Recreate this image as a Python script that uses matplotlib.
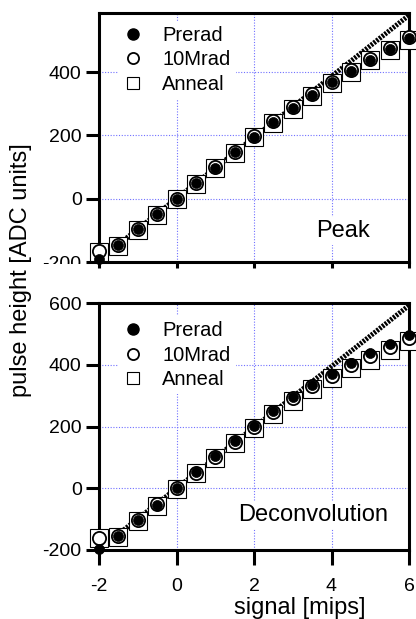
import matplotlib
matplotlib.use("Agg")
import matplotlib.pyplot as plt
from matplotlib.lines import Line2D
from matplotlib.transforms import Bbox, TransformedBbox

plt.rcParams["font.family"] = ["Liberation Sans", "DejaVu Sans"]

signal = [-2, -1.5, -1, -0.5, 0, 0.5, 1, 1.5, 2, 2.5, 3, 3.5, 4, 4.5, 5, 5.5, 6]

# Peak mode
peak_prerad = [-192, -145, -97, -49, 0, 49, 98, 148, 196, 242, 286, 328, 369, 405, 440, 473, 507]
peak_10mrad = [-166, -146, -97, -49, 0, 50, 99, 149, 198, 245, 290, 330, 370, 406, 441, 475, 511]
peak_anneal = [-169, -148, -99, -51, -2, 47, 96, 146, 194, 240, 284, 325, 365, 401, 437, 470, 503]

# Deconvolution mode
deco_prerad = [-196, -156, -103, -54, 0, 52, 103, 153, 202, 249, 294, 334, 370, 407, 437, 466, 496]
deco_10mrad = [-160, -155, -102, -52, 0, 51, 101, 151, 199, 246, 291, 330, 365, 399, 428, 458, 488]
deco_anneal = [-161, -158, -105, -56, -3, 48, 98, 147, 195, 240, 284, 322, 356, 388, 417, 447, 477]

# linear fits
fit_x = [-2, 6]
peak_fit = [-193, 580]
deco_fit = [-198, 592]

GRID_COLOR = "#7070ff"
TICK_SIZE = 14


def draw_panel(ax, prerad, mrad10, anneal, fit, ylim, yticks, label, label_pos, leg_y):
    ax.plot(fit_x, fit, color="black", lw=3.6, linestyle=(0, (0.45, 0.25)),
            solid_capstyle="butt", dash_capstyle="butt", zorder=2)
    ax.plot(signal, anneal, linestyle="none", marker="s", ms=12.5, mfc="white",
            mec="black", mew=0.8, zorder=3, clip_on=False)
    ax.plot(signal, mrad10, linestyle="none", marker="o", ms=9.5, mfc="white",
            mec="black", mew=1.3, zorder=4, clip_on=False)
    ax.plot(signal, prerad, linestyle="none", marker="o", ms=7.2, mfc="black",
            mec="black", mew=0.5, zorder=5, clip_on=False)

    ax.set_xlim(-2, 6)
    ax.set_ylim(*ylim)
    ax.set_xticks([-2, 0, 2, 4, 6])
    ax.set_yticks(yticks)
    ax.grid(True, color=GRID_COLOR, linestyle=(0, (1, 1.5)), linewidth=0.8)

    for sp in ax.spines.values():
        sp.set_linewidth(2.2)
    ax.tick_params(axis="y", direction="out", length=9.5, width=2.2, pad=3,
                   labelsize=TICK_SIZE)

    handles = [
        Line2D([], [], linestyle="none", marker="o", ms=8, mfc="black", mec="black"),
        Line2D([], [], linestyle="none", marker="o", ms=8, mfc="white", mec="black", mew=1.3),
        Line2D([], [], linestyle="none", marker="s", ms=9, mfc="white", mec="black", mew=0.8),
    ]
    leg = ax.legend(handles, ["Prerad", "10Mrad", "Anneal"], loc="upper left",
                    bbox_to_anchor=(0.061, leg_y), fontsize=14.5, frameon=True,
                    handlelength=1.0, handletextpad=0.95, labelspacing=0.27,
                    borderpad=0.25, borderaxespad=0.0, numpoints=1)
    leg.get_frame().set_facecolor("white")
    leg.get_frame().set_edgecolor("none")
    leg.get_frame().set_alpha(1)
    leg.set_zorder(6)

    ax.text(label_pos[0], label_pos[1], label, transform=ax.transAxes,
            fontsize=17, ha="center", va="center", zorder=6,
            bbox=dict(boxstyle="square,pad=0.12", facecolor="white", edgecolor="none"))


fig = plt.figure(figsize=(4.16, 6.19), dpi=100)
ax1 = fig.add_axes([99 / 416, 1 - 262 / 619, 310 / 416, 249 / 619])
ax2 = fig.add_axes([99 / 416, 1 - 550 / 619, 310 / 416, 247 / 619])

draw_panel(ax1, peak_prerad, peak_10mrad, peak_anneal, peak_fit,
           (-200, 587), [-200, 0, 200, 400], "Peak", (0.787, 0.125), 0.968)
draw_panel(ax2, deco_prerad, deco_10mrad, deco_anneal, deco_fit,
           (-200, 600), [-200, 0, 200, 400, 600], "Deconvolution", (0.69, 0.142), 0.947)

ax1.tick_params(axis="x", direction="out", length=4, width=2.2, labelbottom=False)
ax2.tick_params(axis="x", direction="out", length=11, width=2.2, pad=9,
                labelsize=TICK_SIZE)
ax2.set_xticklabels(["-2", "0", "2", "4", "6"])
ax1.set_yticklabels(["-200", "0", "200", "400"])
ax2.set_yticklabels(["-200", "0", "200", "400", "600"])

# the lowest label of the upper panel is cut by the lower panel
clip = TransformedBbox(Bbox([[0, 1 - 264 / 619], [1, 1]]), fig.transFigure)
for lab in ax1.get_yticklabels():
    lab.set_clip_box(clip)
    lab.set_clip_on(True)

fig.text(21 / 416, 1 - 270 / 619, "pulse height [ADC units]", rotation=90,
         fontsize=17, ha="center", va="center")
fig.text(300 / 416, 1 - 614 / 619, "signal [mips]", fontsize=17,
         ha="center", va="baseline")

fig.savefig("out.png", dpi=100)
